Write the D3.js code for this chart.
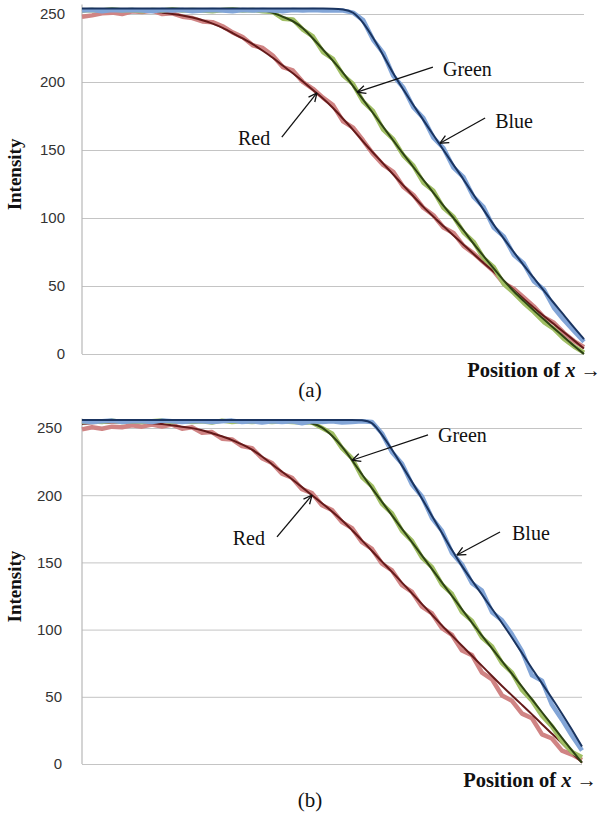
<!DOCTYPE html>
<html>
<head>
<meta charset="utf-8">
<script src="https://cdn.jsdelivr.net/npm/d3@7"></script>
<style>
  body { margin: 0; background: #fff; }
  svg { display: block; }
</style>
</head>
<body>
<div id="chart"></div>
<script>
// sample positions along x (0 = left edge of the plot, 100 = right edge)
const positions = [0,2,4,6,8,10,12,14,16,18,20,22,24,26,28,30,32,34,36,38,40,42,44,46,48,
  50,52,54,56,58,60,62,64,66,68,70,72,74,76,78,80,82,84,86,88,90,92,94,96,98,100];
const yTicks = [0, 50, 100, 150, 200, 250];

// panel (a): measured (noisy) and fitted intensity
const redMeasA = [248,249,250.5,251,250,252,251.5,252.5,250,250.5,
  248,247,244.5,244,241,236.5,233,227,225,219.5,
  211,208.5,200,195,188.5,183,171,166.5,157,147,
  139,134,123,117,107.5,102,93,89,79.5,74,
  67.5,61,52,48,41.5,35,27,23,15.5,9.5,5];
const redFitA = [252,252.5,253,253,253,253,252.5,252,251,250,
  249,247.5,245.5,243,240,236,232,228,223,218,
  212,206.5,200.5,194,188,181,173,165,156,148,
  140,132,124,116,108,101,94,87,80.5,73.5,
  67,60.5,54,47,40.5,34,28,22,16,10,4];
const greenMeasA = [252.5,253,252.5,253.5,252.5,253,252,253,252.5,253.5,
  252.5,253,252.5,252,253,253.5,252.5,253,
  252,251.5,246.5,246,238.5,233.5,222,217,205,198.5,
  185.5,178.5,165,158,146,138.5,126,120,107.5,101,
  89.5,82.5,70.5,64,51.5,45,37.5,31,23.5,18.5,11,5.5,1];
const greenFitA = [253.5,253.5,253.5,253.5,253.5,253.5,253.5,253.5,253.5,253.5,
  253.5,253.5,253.5,253.5,253.5,253.5,253.5,253.5,
  253,251,248,245,240,232,224,215.5,207,197,
  187,177,167,157,147,137.5,128,118.5,109,100,
  91,81,72,63,54,46,39,32,25.5,19,12.5,6,0];
const blueMeasA = [252.5,253,252,253,252.5,253,252.5,252,253,252.5,
  253,252,252.5,253,252.5,252,253,252.5,253,252.5,
  252,253,252.5,253,252.5,252.5,
  252.5,251,245.5,231,221.5,204.5,196,181.5,173.5,159,
  151.5,137,130,115.5,108,93,86.5,73,66.5,53.5,
  47.5,34,25,17,9];
const blueFitA = [254,254,254,254,254,254,254,254,254,254,
  254,254,254,254,254,254,254,254,254,254,
  254,254,254,254,254,254,
  253.5,252,244,232.5,220,206,194.5,183,172,161,
  150,139,128.5,117,106,95,85,75,65,56,
  46.5,37.5,28.5,19.5,11];

// panel (b)
const redMeasB = [249,250.5,249.5,251,250.5,252,251,252.5,251,252.5,
  249.5,250.5,246.5,247,242,241.5,236.5,235,227.5,224,
  216,213,204.5,201.5,192.5,189,180,175.5,165,160,
  149,144,133,128,117,112,101,96,84.5,81,
  68,63,51,47,37.5,34,22,19,10,7,3];
const redFitB = [253,253.5,254,254,254,254,254,253.5,253,252,
  251,250,248.5,246,244,241,238,234,229,223,
  217.5,212,206,200,194,188,181.5,174,166.5,158.5,
  150.5,143,135,127,119,111,103,95.5,88,80.5,
  73,65.5,58,51,44,37,29.5,22.5,15.5,8,1];
const greenMeasB = [254.5,255,254.5,255.5,254.5,255,254.5,255,255.5,254.5,
  255,254.5,255,254,255.5,254.5,255,254.5,255,254.5,255,254.5,
  254,254,250,246,235,227.5,213.5,206.5,193.5,186.5,
  173.5,166,153.5,146.5,133.5,126.5,113,106.5,94,87.5,
  75,68,55,47,36,28,17,9,5];
const greenFitB = [255.5,255.5,255.5,255.5,255.5,255.5,255.5,255.5,255.5,255.5,
  255.5,255.5,255.5,255.5,255.5,255.5,255.5,255.5,255.5,255.5,255.5,255.5,
  255,253.5,251,244.5,236.5,226,215.5,205,195,185,
  175,165,155,145,135,125,115,105,95.5,86,
  76.5,67,57.5,48,38.5,29,19.5,10,1];
const blueMeasB = [255,254.5,255,255.5,254.5,255,255,254.5,255.5,255,
  254.5,255,255,254.5,255,255.5,254.5,255,254,255,
  254.5,255,253.5,255,254.5,255,254,254.5,255,
  254.5,246,232,223.5,208,199,183,173.5,157,148.5,
  134.5,129,113,107,96.5,84,66,62,44,33,21,10];
const blueFitB = [256,256,256,256,256,256,256,256,256,256,
  256,256,256,256,256,256,256,256,256,256,
  256,256,256,256,256,256,256,256,256,
  255,245,234,222,210,197.5,184.5,172,159,147,
  136.5,126,115.5,105,94,82.5,71,60,49,37.5,25.5,13];

// annotations: [label, tip x, tip y, tail x, tail y, text x, text y, anchor]
const notesA = [
  ["Red", 46.8, 192, 39.8, 159.5, 37.5, 153.5, "end"],
  ["Green", 54.8, 192.5, 69.9, 211, 71.9, 204.5, "start"],
  ["Blue", 71.3, 155, 80.3, 173.5, 82.3, 166, "start"]
];
const notesB = [
  ["Red", 46, 200, 39, 169, 36.6, 163, "end"],
  ["Green", 54, 226, 69.2, 244.8, 71.2, 239.6, "start"],
  ["Blue", 75, 155.5, 83.6, 172.6, 86, 166.7, "start"]
];

const colors = {
  redMeas: "#d08484", redFit: "#641a1a",
  greenMeas: "#a0be64", greenFit: "#2d4214",
  blueMeas: "#82a5d7", blueFit: "#1a3460"
};

const panels = [
  { tag: "(a)", left: 82, right: 584, top: 14, bottom: 354, tickPad: 17,
    xLabelX: 601, notes: notesA,
    series: [[redMeasA, redFitA, "red"], [greenMeasA, greenFitA, "green"], [blueMeasA, blueFitA, "blue"]] },
  { tag: "(b)", left: 82, right: 582, top: 428, bottom: 764, tickPad: 20,
    xLabelX: 597, notes: notesB,
    series: [[redMeasB, redFitB, "red"], [greenMeasB, greenFitB, "green"], [blueMeasB, blueFitB, "blue"]] }
];

const svg = d3.select("#chart").append("svg")
  .attr("width", 601)
  .attr("height", 825)
  .style("background", "#fff");

svg.append("defs").append("marker")
  .attr("id", "head")
  .attr("viewBox", "0 0 10 10")
  .attr("refX", 9.5)
  .attr("refY", 5)
  .attr("markerWidth", 10)
  .attr("markerHeight", 10)
  .attr("markerUnits", "userSpaceOnUse")
  .attr("orient", "auto")
  .append("path")
  .attr("d", "M1,1 L9.5,5 L1,9")
  .attr("fill", "none")
  .attr("stroke", "#111")
  .attr("stroke-width", 1.3);

function drawPanel(p) {
  const x = d3.scaleLinear().domain([0, 100]).range([p.left, p.right]);
  const y = d3.scaleLinear().domain([0, 250]).range([p.bottom, p.top]);
  const g = svg.append("g");

  // gridlines + tick labels
  const axis = g.append("g")
    .attr("transform", `translate(${p.left},0)`)
    .call(d3.axisLeft(y).tickValues(yTicks).tickSize(-(p.right - p.left)).tickPadding(p.tickPad));
  axis.select(".domain").remove();
  axis.selectAll(".tick line").attr("stroke", "#c4c4c4").attr("stroke-width", 1);
  axis.selectAll(".tick text")
    .attr("fill", "#333")
    .style("font-family", "'Liberation Sans', Arial, sans-serif")
    .style("font-size", "15px");

  // left axis line
  g.append("line")
    .attr("x1", p.left).attr("x2", p.left)
    .attr("y1", y(257)).attr("y2", y(0))
    .attr("stroke", "#b8b8b8").attr("stroke-width", 1.2);

  const line = d3.line()
    .x((d, i) => x(positions[i]))
    .y(d => y(d));
  const smooth = d3.line()
    .x((d, i) => x(positions[i]))
    .y(d => y(d))
    .curve(d3.curveBasis);

  p.series.forEach(([meas, fit, name]) => {
    g.append("path")
      .datum(meas)
      .attr("d", line)
      .attr("fill", "none")
      .attr("stroke", colors[name + "Meas"])
      .attr("stroke-width", 4.5)
      .attr("stroke-linejoin", "round");
    g.append("path")
      .datum(fit)
      .attr("d", smooth)
      .attr("fill", "none")
      .attr("stroke", colors[name + "Fit"])
      .attr("stroke-width", 2);
  });

  // arrows + labels
  p.notes.forEach(n => {
    g.append("line")
      .attr("x1", x(n[3])).attr("y1", y(n[4]))
      .attr("x2", x(n[1])).attr("y2", y(n[2]))
      .attr("stroke", "#111").attr("stroke-width", 1.3)
      .attr("marker-end", "url(#head)");
    g.append("text")
      .attr("x", x(n[5])).attr("y", y(n[6]))
      .attr("text-anchor", n[7])
      .style("font-family", "'Liberation Serif', 'Times New Roman', serif")
      .style("font-size", "20px")
      .attr("fill", "#111")
      .text(n[0]);
  });

  // y title
  g.append("text")
    .attr("transform", `translate(21,${y(132)}) rotate(-90)`)
    .attr("text-anchor", "middle")
    .style("font-family", "'Liberation Serif', 'Times New Roman', serif")
    .style("font-size", "19px")
    .style("font-weight", "bold")
    .attr("fill", "#111")
    .text("Intensity");

  // x title
  const xt = g.append("text")
    .attr("x", p.xLabelX).attr("y", p.bottom + 23)
    .attr("text-anchor", "end")
    .style("font-family", "'Liberation Serif', 'Times New Roman', serif")
    .style("font-size", "20.5px")
    .style("font-weight", "bold")
    .attr("fill", "#111");
  xt.append("tspan").text("Position of ");
  xt.append("tspan").style("font-style", "italic").text("x");
  xt.append("tspan").text(" \u2192");

  // panel tag
  g.append("text")
    .attr("x", 310).attr("y", p.bottom + 43)
    .attr("text-anchor", "middle")
    .style("font-family", "'Liberation Serif', 'Times New Roman', serif")
    .style("font-size", "21px")
    .attr("fill", "#111")
    .text(p.tag);
}

panels.forEach(drawPanel);
</script>
</body>
</html>
